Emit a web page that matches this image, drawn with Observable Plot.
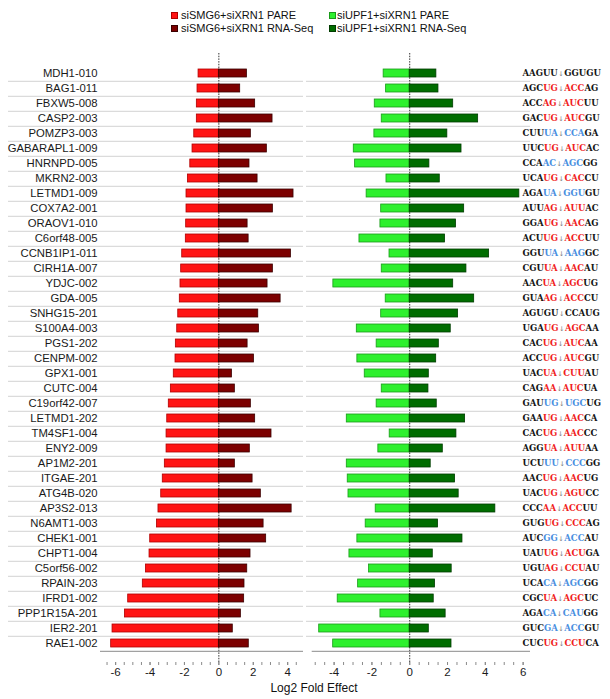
<!DOCTYPE html>
<html><head><meta charset="utf-8">
<script src="https://cdn.jsdelivr.net/npm/d3@7"></script>
<script src="https://cdn.jsdelivr.net/npm/@observablehq/plot@0.6"></script>
<style>
body{margin:0;background:#fff;font-family:"Liberation Sans",Arial,sans-serif;}
#wrap{position:relative;width:610px;height:699px;overflow:hidden;background:#fff;}
.leg{position:absolute;font-size:11px;color:#111;white-space:nowrap;line-height:12px;}
.leg i{display:inline-block;width:7px;height:7px;margin-right:3px;vertical-align:0px;box-sizing:border-box;border:1px solid;}
#left{position:absolute;left:0;top:36px;}
#right{position:absolute;left:306px;top:36px;}
#xlab{position:absolute;left:0;width:628px;text-align:center;top:681px;font-size:12px;color:#111;}
</style></head>
<body><div id="wrap">
<div id="legend"></div>
<div id="left"></div>
<div id="right"></div>
<div id="xlab"></div>
</div>
<script>
const genes = ["MDH1-010","BAG1-011","FBXW5-008","CASP2-003","POMZP3-003","GABARAPL1-009","HNRNPD-005","MKRN2-003","LETMD1-009","COX7A2-001","ORAOV1-010","C6orf48-005","CCNB1IP1-011","CIRH1A-007","YDJC-002","GDA-005","SNHG15-201","S100A4-003","PGS1-202","CENPM-002","GPX1-001","CUTC-004","C19orf42-007","LETMD1-202","TM4SF1-004","ENY2-009","AP1M2-201","ITGAE-201","ATG4B-020","AP3S2-013","N6AMT1-003","CHEK1-001","CHPT1-004","C5orf56-002","RPAIN-203","IFRD1-002","PPP1R15A-201","IER2-201","RAE1-002"];
const seqs = ["AAGUU|GGUGU","AGCUG|ACCAG","ACCAG|AUCUU","GACUG|AUCGU","CUUUA|CCAGA","UUCUG|AUCAC","CCAAC|AGCGG","UCAUG|CACCU","AGAUA|GGUGU","AUUAG|AUUAC","GGAUG|AACAG","ACUUG|ACCUU","GGUUA|AAGGC","CGUUA|AACAU","AACUA|AGCUG","GUAAG|ACCCU","AGUGU|CCAUG","UGAUG|AGCAA","CACUG|AUCAA","ACCUG|AUCGU","UACUA|CUUAU","CAGAA|AUCUA","GAUUG|UGCUG","GAAUG|AACCA","CACUG|AACCC","AGGUA|AUUAA","UCUUU|CCCGG","AACUG|AACUG","UACUG|AGUCC","CCCAA|ACCUU","GUGUG|CCCAG","AUCGG|ACCAU","UAUUG|ACUGA","UGUAG|CCUAU","UCACA|AGCGG","CGCUA|AGCUC","AGACA|CAUGG","GUCGA|ACCGU","CUCUG|CCUCA"];
const motif = ["k","r","r","r","b","r","b","r","b","r","r","r","b","r","r","r","k","r","r","r","r","r","b","r","r","r","b","r","r","r","r","b","r","r","b","r","b","b","r"];
const smg6Pare = [-1.18,-1.24,-1.28,-1.28,-1.43,-1.53,-1.66,-1.80,-1.88,-1.88,-1.90,-1.92,-2.13,-2.19,-2.23,-2.27,-2.36,-2.42,-2.50,-2.52,-2.62,-2.79,-2.91,-3.00,-3.04,-3.04,-3.14,-3.26,-3.35,-3.51,-3.60,-3.99,-4.03,-4.24,-4.42,-5.27,-5.46,-6.18,-6.26];
const smg6Rna = [1.63,1.24,2.11,3.12,1.86,2.79,1.78,2.25,4.34,3.14,1.67,1.73,4.19,3.14,2.83,3.59,2.29,2.33,1.67,2.04,0.76,0.93,1.86,2.11,3.06,1.80,0.93,1.96,2.44,4.23,2.60,2.75,1.84,1.65,1.49,1.47,1.28,0.81,1.74];
const upf1Pare = [-1.38,-1.25,-1.85,-1.48,-1.87,-2.96,-2.89,-1.23,-2.28,-1.51,-1.55,-2.66,-1.07,-1.48,-4.04,-1.27,-1.51,-2.80,-1.75,-2.77,-2.38,-1.48,-1.75,-3.33,-1.06,-1.66,-3.33,-3.28,-3.24,-1.80,-2.33,-2.77,-3.19,-2.15,-2.73,-3.81,-1.55,-4.79,-4.05];
const upf1Rna = [1.41,1.52,2.30,3.62,1.99,2.74,1.04,1.59,5.80,2.88,2.45,1.87,4.20,3.00,2.30,3.41,2.56,2.17,1.54,1.40,1.01,0.99,1.43,2.93,2.47,1.75,1.11,2.40,2.59,4.53,1.50,2.79,1.22,2.22,1.34,1.27,1.90,1.01,2.21];
const xTicksLeft = [-6,-4,-2,0,2,4];
const xTicksRight = [-4,-2,0,2,4,6];
const seriesLabels = ["siSMG6+siXRN1 PARE","siSMG6+siXRN1 RNA-Seq","siUPF1+siXRN1 PARE","siUPF1+siXRN1 RNA-Seq"];
const axisTitle = "Log2 Fold Effect";

const fills = ["#ff1414","#7c0000","#2ef02e","#006d00"];
const strokes = ["#b00000","#3a0000","#1a9a1a","#003c00"];
const motifColor = {r:"#f01e1e", b:"#4a8fdf", k:"#151515"};

const rows = genes.map((g,i)=>({gene:g, seq:seqs[i], motif:motif[i], smgPare:smg6Pare[i], smgRna:smg6Rna[i], upfPare:upf1Pare[i], upfRna:upf1Rna[i]}));

// legend
const legPos = [[171,9],[171,22],[329,9],[329,22]];
const legend = document.getElementById("legend");
seriesLabels.forEach((s,i)=>{
  const d = document.createElement("div");
  d.className = "leg";
  d.style.left = legPos[i][0]+"px"; d.style.top = legPos[i][1]+"px";
  const sw = document.createElement("i");
  sw.style.background = fills[i]; sw.style.borderColor = strokes[i];
  if (i>=2) sw.style.marginRight = "1px";
  d.appendChild(sw);
  d.appendChild(document.createTextNode(s));
  legend.appendChild(d);
});
document.getElementById("xlab").textContent = axisTitle;

const H = 644, MT = 17, MB = 18;
const step = (H - MT - MB) / genes.length;
const style = {fontFamily:"Liberation Sans, Arial, sans-serif", color:"#1a1a1a", background:"transparent", overflow:"visible"};
const yOpts = {type:"band", domain:genes, paddingInner:0.48, paddingOuter:0.24, label:null};

function panel(cfg){
  const px = (cfg.width - cfg.ml - cfg.mr) / (cfg.domain[1] - cfg.domain[0]);
  const gridStart = cfg.domain[0] - (cfg.ml - cfg.gridLeft) / px;
  const minor = d3.range(Math.ceil(cfg.domain[0]*2)/2, cfg.domain[1], 0.5);
  const marks = [
    Plot.ruleY(genes.slice(0,-1), {y:d=>d, x1:gridStart, x2:cfg.domain[1], dy:step/2, stroke:"#d2d2d2", strokeWidth:1}),
    Plot.ruleX([0], {stroke:"#333", strokeDasharray:"1.5,1.2", strokeWidth:1}),
    Plot.barX(rows, {y:"gene", x1:0, x2:cfg.a, fill:cfg.fa, stroke:cfg.sa, strokeWidth:0.8}),
    Plot.barX(rows, {y:"gene", x1:0, x2:cfg.b, fill:cfg.fb, stroke:cfg.sb, strokeWidth:0.8}),
    Plot.ruleY([genes[genes.length-1]], {y:d=>d, dy:step/2, stroke:"#8a8a8a", strokeWidth:1}),
    Plot.axisX(minor, {tickSize:3, tickFormat:()=>"", label:null, stroke:"#8a8a8a"}),
    Plot.axisX(cfg.ticks, {tickSize:3, tickPadding:2, fontSize:11.5, label:null, stroke:"#8a8a8a", tickFormat:d=>String(d)})
  ];
  if (cfg.yaxis) marks.push(Plot.axisY({tickSize:0, tickPadding:3, fontSize:11.3, label:null}));
  if (cfg.seq) marks.push(Plot.text(rows, {y:"gene", text:d=>d.seq, frameAnchor:"right", dx:cfg.seqDx, textAnchor:"start", fontFamily:"DejaVu Serif", fontWeight:"bold", fontSize:8.5}));
  return Plot.plot({
    width:cfg.width, height:H, marginLeft:cfg.ml, marginRight:cfg.mr, marginTop:MT, marginBottom:MB,
    x:{domain:cfg.domain, label:null, axis:null},
    y:{...yOpts, axis:null},
    style, marks
  });
}

const left = panel({width:306, ml:100, mr:3, domain:[-6.88,4.92], gridLeft:8, ticks:xTicksLeft,
  a:"smgPare", b:"smgRna", fa:fills[0], fb:fills[1], sa:strokes[0], sb:strokes[1], yaxis:true});
document.getElementById("left").appendChild(left);

const right = panel({width:304, ml:5.7, mr:80, domain:[-5.16,6.39], gridLeft:0, ticks:xTicksRight,
  a:"upfPare", b:"upfRna", fa:fills[2], fb:fills[3], sa:strokes[2], sb:strokes[3], seq:true, seqDx:-8});
document.getElementById("right").appendChild(right);

// colour the motif parts of each sequence label
const ns = "http://www.w3.org/2000/svg";
d3.select(right).selectAll('g[aria-label="text"] text').each(function(_, i){
  const r = rows[i];
  const [a, b] = r.seq.split("|");
  const c = motifColor[r.motif];
  const parts = [[a.slice(0,3),"#151515"],[a.slice(3),c],["↓","#777"],[b.slice(0,3),c],[b.slice(3),"#151515"]];
  this.textContent = "";
  parts.forEach(([t,col],k)=>{
    const ts = document.createElementNS(ns,"tspan");
    ts.textContent = t;
    ts.setAttribute("fill", col);
    if (k===2){ ts.setAttribute("font-family","DejaVu Sans"); ts.setAttribute("font-weight","normal"); ts.setAttribute("font-size","6.5"); ts.setAttribute("dx","0.5"); }
    if (k===3) ts.setAttribute("dx","0.5");
    this.appendChild(ts);
  });
});
</script>
</body></html>
